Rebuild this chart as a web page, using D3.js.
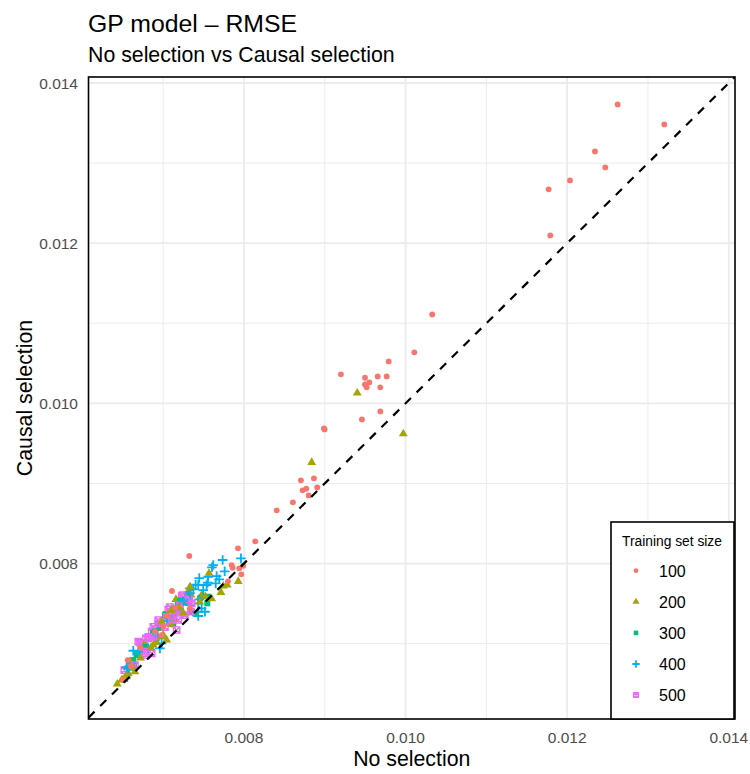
<!DOCTYPE html>
<html><head><meta charset="utf-8">
<script src="https://cdn.jsdelivr.net/npm/d3@7"></script>
<style>body{margin:0;background:#fff}svg{display:block;font-family:"Liberation Sans",Arial,sans-serif}</style>
</head><body><svg id="c" width="750" height="774"></svg>
<script>
const sizes = ["100","200","300","400","500"];
const colors = ["#F8766D","#A3A500","#00BF7D","#00B0F6","#E76BF3"];
const tickValues = [0.008,0.010,0.012,0.014];
const minorTicks = [0.007,0.009,0.011,0.013];
// [No selection, Causal selection]
const size100 = [[0.012625,0.013733],[0.013202,0.013483],[0.012344,0.013146],[0.012472,0.012946],[0.012035,0.012784],[0.011771,0.012672],[0.011791,0.012097],[0.010330,0.011111],[0.010108,0.010637],[0.009791,0.010524],[0.009200,0.010362],[0.009498,0.010320],[0.009655,0.010337],[0.009766,0.010337],[0.009551,0.010262],[0.009498,0.010237],[0.009519,0.010200],[0.009687,0.010200],[0.009687,0.009900],[0.009460,0.009800],[0.008990,0.009688],[0.008998,0.009675],[0.008866,0.009064],[0.008705,0.009039],[0.008726,0.008914],[0.008771,0.008934],[0.008907,0.008951],[0.008801,0.008851],[0.008606,0.008764],[0.008405,0.008664],[0.008140,0.008277],[0.007926,0.008190],[0.007323,0.008094],[0.007860,0.007948],[0.007942,0.007940],[0.007991,0.007973],[0.007967,0.007865],[0.007802,0.007778],[0.007848,0.007981],[0.007109,0.007657],[0.006561,0.006795],[0.006506,0.006546],[0.006981,0.007107],[0.006720,0.006950],[0.006900,0.007150],[0.007050,0.007350],[0.007150,0.007450],[0.006600,0.006720],[0.007000,0.007220],[0.007332,0.007441]];
const size200 = [[0.009402,0.010129],[0.009972,0.009620],[0.008838,0.009263],[0.007929,0.007778],[0.007793,0.007732],[0.007744,0.007719],[0.007715,0.007640],[0.007567,0.007878],[0.007476,0.007607],[0.007521,0.007586],[0.007158,0.007553],[0.007344,0.007607],[0.007332,0.007690],[0.006981,0.007253],[0.006969,0.007191],[0.006981,0.007086],[0.006775,0.007004],[0.006589,0.006774],[0.006568,0.006629],[0.006548,0.006608],[0.006506,0.006554],[0.006432,0.006496],[0.006878,0.006983],[0.007043,0.007045],[0.006920,0.007016],[0.006651,0.006649],[0.006548,0.006587],[0.006486,0.006546],[0.007452,0.007520],[0.007600,0.007560],[0.007250,0.007380],[0.007150,0.007300],[0.007100,0.007240],[0.007200,0.007450],[0.007050,0.007350],[0.006850,0.006950],[0.006720,0.006820],[0.006620,0.006700],[0.007332,0.007710],[0.006981,0.007273],[0.007001,0.007107],[0.007105,0.007419]];
const size300 = [[0.007558,0.007586],[0.007455,0.007565],[0.007208,0.007419],[0.007035,0.007370],[0.007125,0.007241],[0.006920,0.007066],[0.006672,0.006858],[0.006692,0.006879],[0.006639,0.006733],[0.006878,0.007149],[0.007043,0.007336],[0.006630,0.006795],[0.007546,0.007503],[0.007270,0.007523],[0.007134,0.007370],[0.007105,0.007328],[0.006530,0.006560],[0.006780,0.006960],[0.006950,0.007200],[0.007300,0.007620],[0.006600,0.006700],[0.007180,0.007480],[0.007022,0.007357],[0.007208,0.007536],[0.007353,0.007398],[0.007394,0.007378],[0.006899,0.007149],[0.006878,0.007129]];
const size400 = [[0.007963,0.008065],[0.007736,0.008044],[0.007620,0.007981],[0.007604,0.007953],[0.007761,0.007903],[0.007447,0.007819],[0.007558,0.007835],[0.007662,0.007844],[0.007551,0.007760],[0.007650,0.007753],[0.007694,0.007803],[0.007402,0.007735],[0.007332,0.007690],[0.007373,0.007678],[0.007496,0.007669],[0.007447,0.007553],[0.007434,0.007503],[0.007332,0.007482],[0.007434,0.007398],[0.007434,0.007345],[0.006981,0.007004],[0.006816,0.006941],[0.006630,0.006911],[0.006580,0.006720],[0.006548,0.006704],[0.007298,0.007553],[0.006960,0.006941],[0.006692,0.006899],[0.006568,0.006692],[0.007150,0.007420],[0.007250,0.007530],[0.006900,0.007100],[0.007050,0.007280],[0.007434,0.007732],[0.007538,0.007732],[0.007332,0.007628],[0.007476,0.007441],[0.007517,0.007398]];
const size500 = [[0.007229,0.007594],[0.007303,0.007523],[0.007196,0.007523],[0.007063,0.007428],[0.007167,0.007419],[0.007208,0.007398],[0.006899,0.007179],[0.006858,0.007149],[0.006899,0.007086],[0.006787,0.007066],[0.006713,0.007011],[0.006787,0.006858],[0.006858,0.006879],[0.006734,0.006961],[0.006519,0.006670],[0.007084,0.007273],[0.006878,0.007211],[0.006939,0.007295],[0.006816,0.007066],[0.006692,0.007024],[0.006651,0.006733],[0.006775,0.006899],[0.007241,0.007607],[0.007208,0.007482],[0.007167,0.007398],[0.007270,0.007357],[0.007344,0.007398],[0.007353,0.007503],[0.007323,0.007553],[0.007084,0.007457],[0.007146,0.007395],[0.007043,0.007336],[0.006939,0.007253],[0.007022,0.007207],[0.007167,0.007170],[0.007105,0.007295],[0.007187,0.007295],[0.006816,0.007086],[0.006878,0.007086]];
const seriesData = [size100,size200,size300,size400,size500];

const svg = d3.select("#c");
const L=88.5, R=735, T=77, B=719;
const x = d3.scaleLinear().domain([0.006076,0.014077]).range([L,R]);
const y = d3.scaleLinear().domain([0.006059,0.014075]).range([B,T]);

// grid
const g = svg.append("g");
g.selectAll(".vmin").data(minorTicks).join("line").attr("x1",d=>x(d)).attr("x2",d=>x(d)).attr("y1",T).attr("y2",B).attr("stroke","#EBEBEB").attr("stroke-width",1);
g.selectAll(".hmin").data(minorTicks).join("line").attr("y1",d=>y(d)).attr("y2",d=>y(d)).attr("x1",L).attr("x2",R).attr("stroke","#EBEBEB").attr("stroke-width",1);
g.selectAll(".vmaj").data(tickValues).join("line").attr("x1",d=>x(d)).attr("x2",d=>x(d)).attr("y1",T).attr("y2",B).attr("stroke","#EBEBEB").attr("stroke-width",1.8);
g.selectAll(".hmaj").data(tickValues).join("line").attr("y1",d=>y(d)).attr("y2",d=>y(d)).attr("x1",L).attr("x2",R).attr("stroke","#EBEBEB").attr("stroke-width",1.8);

// symbols
function shapePath(k, s){
  if(k===0) return d3.symbol(d3.symbolCircle, Math.PI*s*s*0.27)();
  if(k===1) return d3.symbol(d3.symbolTriangle, s*s*0.62)();
  if(k===2){const h=s*0.5; return `M${-h},${-h}H${h}V${h}H${-h}Z`;}
  if(k===3){const h=s*0.8; return `M${-h},0H${h}M0,${-h}V${h}`;}
  const h=s*0.5; return `M${-h},${-h}H${h}V${h}H${-h}ZM${-h},${-h}L${h},${h}M${h},${-h}L${-h},${h}`;
}
function styleSym(sel,k){
  if(k<=2) sel.attr("fill",colors[k]).attr("stroke","none");
  else sel.attr("fill","none").attr("stroke",colors[k]).attr("stroke-width",k===3?1.8:1.4);
}
const pts=[];
const maxN = d3.max(seriesData,d=>d.length);
for(let i=0;i<maxN;i++) for(let k=0;k<5;k++) if(seriesData[k][i]) pts.push({k, v:seriesData[k][i]});
const pg = svg.append("g");
pts.forEach(p=>{
  const s = p.k===3?6:(p.k===4?6.3:(p.k===1?7.4:(p.k===2?6:5.6)));
  const el = pg.append("path").attr("d",shapePath(p.k,s)).attr("transform",`translate(${x(p.v[0])},${y(p.v[1])})`);
  styleSym(el,p.k);
});

// diagonal
const lo = Math.max(x.domain()[0],y.domain()[0]), hi=Math.min(x.domain()[1],y.domain()[1]);
svg.append("line").attr("x1",x(lo)).attr("y1",y(lo)).attr("x2",x(hi)).attr("y2",y(hi))
  .attr("stroke","#000").attr("stroke-width",2.2).attr("stroke-dasharray","8.5,8");

// panel border
svg.append("rect").attr("x",L).attr("y",T).attr("width",R-L).attr("height",B-T).attr("fill","none").attr("stroke","#000").attr("stroke-width",1.6);

// axes labels
svg.append("g").selectAll("text").data(tickValues).join("text")
  .attr("x",d=>x(d)).attr("y",743).attr("text-anchor","middle").attr("font-size",15.5).attr("fill","#4D4D4D").text(d3.format(".3f"));
svg.append("g").selectAll("text").data(tickValues).join("text")
  .attr("x",78).attr("y",d=>y(d)+5.5).attr("text-anchor","end").attr("font-size",15.5).attr("fill","#4D4D4D").text(d3.format(".3f"));
svg.append("text").attr("x",(L+R)/2).attr("y",766).attr("text-anchor","middle").attr("font-size",21.3).attr("fill","#000").text("No selection");
svg.append("text").attr("transform",`translate(32,${(T+B)/2}) rotate(-90)`).attr("text-anchor","middle").attr("font-size",21.3).attr("fill","#000").text("Causal selection");

// titles
svg.append("text").attr("x",88).attr("y",31.5).attr("font-size",24.8).attr("fill","#000").text("GP model – RMSE");
svg.append("text").attr("x",88).attr("y",61.5).attr("font-size",21.3).attr("fill","#000").text("No selection vs Causal selection");

// legend
const lg = svg.append("g");
lg.append("rect").attr("x",611).attr("y",522).attr("width",123).attr("height",197).attr("fill","#fff").attr("stroke","#000").attr("stroke-width",1.6);
lg.append("text").attr("x",622).attr("y",545.5).attr("font-size",13.8).attr("fill","#000").text("Training set size");
sizes.forEach((s,k)=>{
  const cy = 570.7 + k*31.1;
  const el = lg.append("path").attr("d",shapePath(k,k===3?4.6:(k===1?6:4.6))).attr("transform",`translate(636,${cy})`);
  styleSym(el,k);
  lg.append("text").attr("x",659).attr("y",cy+5.8).attr("font-size",16).attr("fill","#000").text(s);
});
</script></body></html>
